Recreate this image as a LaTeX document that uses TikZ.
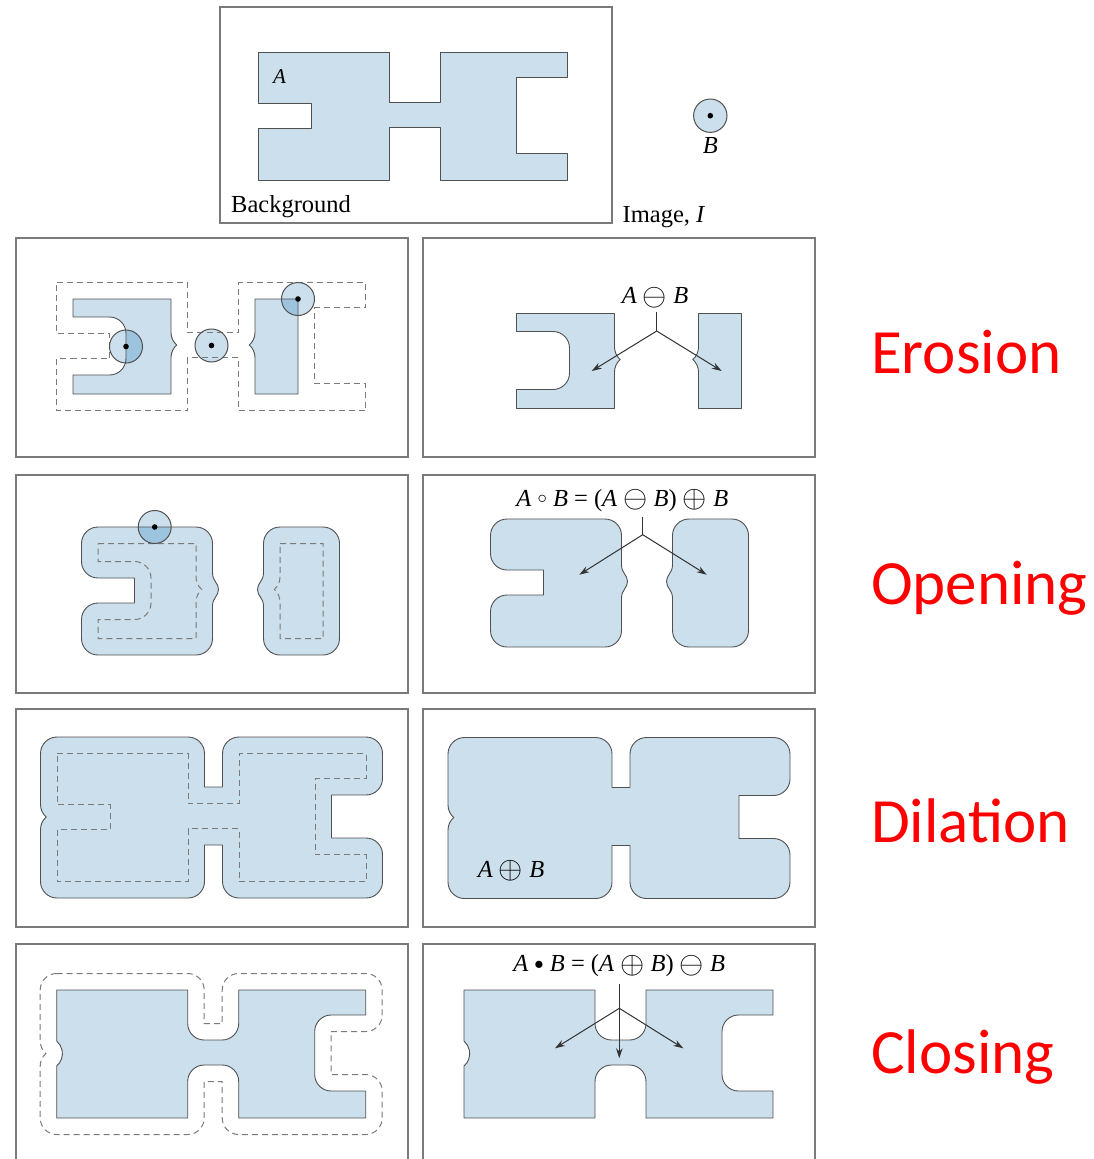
\documentclass[tikz,border=0pt]{standalone}
\usepackage{fontspec}
\setmainfont{Liberation Serif}
\newfontfamily\calib{Carlito}
\usetikzlibrary{arrows.meta}
\definecolor{blu}{HTML}{CCDFEC}
\definecolor{dblu}{HTML}{9DC4DF}
\definecolor{edgec}{HTML}{505050}
\definecolor{frm}{HTML}{7A7A7A}
\definecolor{dshc}{HTML}{7A7A7A}
\definecolor{redc}{HTML}{FF0000}
\newcommand{\bop}[1]{\raisebox{-0.07em}{\scalebox{1.25}{$#1$}}}
\newcommand{\sop}[1]{\raisebox{0.09em}{\scalebox{0.75}{$#1$}}}
% shape A (local coordinates, y down)
\newcommand{\Apath}{(0,0) -- (131,0) -- (131,50) -- (182,50) -- (182,0) -- (309,0) -- (309,25) -- (258,25) -- (258,101) -- (309,101) -- (309,128) -- (182,128) -- (182,75) -- (131,75) -- (131,128) -- (0,128) -- (0,76) -- (53,76) -- (53,51) -- (0,51) -- cycle}
% erosion of A by B
\newcommand{\Epath}{(16.5,16.5) -- (114.5,16.5) -- (114.5,50) arc[start angle=180,end angle=130.8,radius=16.5] arc[start angle=229.2,end angle=180,radius=16.5] -- (114.5,111.5) -- (16.5,111.5) -- (16.5,92.5) -- (53,92.5) arc[start angle=90,end angle=0,radius=16.5] -- (69.5,51) arc[start angle=0,end angle=-90,radius=16.5] -- (16.5,34.5) -- cycle
 (198.5,16.5) -- (241.5,16.5) -- (241.5,111.5) -- (198.5,111.5) -- (198.5,75) arc[start angle=0,end angle=-49.2,radius=16.5] arc[start angle=49.2,end angle=0,radius=16.5] -- cycle}
% opening
\newcommand{\Opath}{(16.5,0) -- (114.5,0) arc[start angle=-90,end angle=0,radius=16.5] -- (131,46) .. controls (131,54) and (137,56) .. (137,62.5) .. controls (137,69) and (131,71) .. (131,79) -- (131,111.5) arc[start angle=0,end angle=90,radius=16.5] -- (16.5,128) arc[start angle=90,end angle=180,radius=16.5] -- (0,92.5) arc[start angle=180,end angle=270,radius=16.5] -- (53,76) -- (53,51) -- (16.5,51) arc[start angle=90,end angle=180,radius=16.5] -- (0,16.5) arc[start angle=180,end angle=270,radius=16.5] -- cycle
 (198.5,0) -- (241.5,0) arc[start angle=-90,end angle=0,radius=16.5] -- (258,111.5) arc[start angle=0,end angle=90,radius=16.5] -- (198.5,128) arc[start angle=90,end angle=180,radius=16.5] -- (182,79) .. controls (182,71) and (176,69) .. (176,62.5) .. controls (176,56) and (182,54) .. (182,46) -- (182,16.5) arc[start angle=180,end angle=270,radius=16.5] -- cycle}
% dilation
\newcommand{\Dpath}{(0,-16.5) -- (131,-16.5) arc[start angle=-90,end angle=0,radius=16.5] -- (147.5,33.5) -- (165.5,33.5) -- (165.5,0) arc[start angle=180,end angle=270,radius=16.5] -- (309,-16.5) arc[start angle=-90,end angle=0,radius=16.5] -- (325.5,25) arc[start angle=0,end angle=90,radius=16.5] -- (274.5,41.5) -- (274.5,84.5) -- (309,84.5) arc[start angle=-90,end angle=0,radius=16.5] -- (325.5,128) arc[start angle=0,end angle=90,radius=16.5] -- (182,144.5) arc[start angle=90,end angle=180,radius=16.5] -- (165.5,91.5) -- (147.5,91.5) -- (147.5,128) arc[start angle=0,end angle=90,radius=16.5] -- (0,144.5) arc[start angle=90,end angle=180,radius=16.5] -- (-16.5,76) arc[start angle=180,end angle=229.2,radius=16.5] arc[start angle=130.8,end angle=180,radius=16.5] -- (-16.5,0) arc[start angle=180,end angle=270,radius=16.5] -- cycle}
% closing
\newcommand{\Cpath}{(0,0) -- (131,0) -- (131,33.5) arc[start angle=180,end angle=90,radius=16.5] -- (165.5,50) arc[start angle=90,end angle=0,radius=16.5] -- (182,0) -- (309,0) -- (309,25) -- (274.5,25) arc[start angle=270,end angle=180,radius=16.5] -- (258,84.5) arc[start angle=180,end angle=90,radius=16.5] -- (309,101) -- (309,128) -- (182,128) -- (182,91.5) arc[start angle=0,end angle=-90,radius=16.5] -- (147.5,75) arc[start angle=270,end angle=180,radius=16.5] -- (131,128) -- (0,128) -- (0,76) arc[start angle=49.2,end angle=-49.2,radius=16.5] -- cycle}
\tikzset{
 region/.style={fill=blu},
 outline/.style={draw=edgec,line width=0.9pt,line join=round},
 dashline/.style={draw=dshc,line width=1pt,dash pattern=on 6pt off 4pt},
 panel/.style={draw=frm,line width=1.4pt},
 lbl/.style={font=\fontsize{24.5}{28}\selectfont,inner sep=0pt},
 redlbl/.style={font=\calib\fontsize{63}{70}\selectfont,text=redc,inner sep=0pt,anchor=base west},
 ptr/.style={draw=black!80,line width=1pt,-{Stealth[length=10pt,width=6.5pt]}},
 stemline/.style={draw=black!80,line width=1pt},
 probe/.style={draw=edgec,line width=1pt},
}
\begin{document}
\begin{tikzpicture}[x=1pt,y=-1pt]
\useasboundingbox (0,0) rectangle (1093,1159);
%% top panel
\draw[panel] (220,7) rectangle (612,223);
\begin{scope}[shift={(258,52)}]
 \fill[region] \Apath; \draw[outline] \Apath;
\end{scope}
\node[lbl,anchor=base west,font=\fontsize{21}{24}\selectfont] (labA) at (273,83.3) {\textit{A}};
\node[lbl,anchor=base west] (bg) at (231,212.5) {Background};
\node[lbl,anchor=base west] (img) at (622.5,222.5) {Image, \textit{I}};
\fill[region] (710.3,115.7) circle[radius=16.7];
\draw[probe] (710.3,115.7) circle[radius=16.7];
\fill (710.3,115.7) circle[radius=2.8];
\node[lbl,anchor=base] (labB) at (710.3,153.3) {\textit{B}};
%% row 1 left: erosion illustration
\draw[panel] (16,238) rectangle (408,457);
\begin{scope}[shift={(56.5,282.5)}]
 \fill[region] \Epath;
 \foreach \p in {(69.5,64),(155,63),(241.5,16.5)} \fill[region] \p circle[radius=16.5];
 \begin{scope}
  \clip \Epath;
  \fill[dblu] (69.5,64) circle[radius=16.5];
  \fill[dblu] (241.5,16.5) circle[radius=16.5];
 \end{scope}
 \draw[dashline] \Apath;
 \draw[outline] \Epath;
 \foreach \p in {(69.5,64),(155,63),(241.5,16.5)} {
  \draw[probe] \p circle[radius=16.5];
  \fill \p circle[radius=2.8];
 }
\end{scope}
%% row 1 right: erosion result
\draw[panel] (423,238) rectangle (815,457);
\begin{scope}[shift={(500,297)}]
 \fill[region] \Epath; \draw[outline] \Epath;
\end{scope}
\node[lbl] (eroLbl) at (655,297.5) {\textit{A} \bop{\ominus} \textit{B}};
\coordinate (eroTop) at (656.7,312);
\coordinate (eroJ) at (656.7,331);
\coordinate (eroL) at (591.7,371);
\coordinate (eroR) at (721.7,371);
\draw[stemline] (eroTop) -- (eroJ);
\draw[ptr] (eroJ) -- (eroL);
\draw[ptr] (eroJ) -- (eroR);
%% row 2 left: opening illustration
\draw[panel] (16,475) rectangle (408,693);
\begin{scope}[shift={(81.5,527)}]
 \fill[region] \Opath;
 \fill[region] (73.2,0) circle[radius=16.5];
 \begin{scope}
  \clip \Opath;
  \fill[dblu] (73.2,0) circle[radius=16.5];
 \end{scope}
 \draw[outline] \Opath;
 \draw[dashline] \Epath;
 \draw[probe] (73.2,0) circle[radius=16.5];
 \fill (73.2,0) circle[radius=2.8];
\end{scope}
%% row 2 right: opening result
\draw[panel] (423,475) rectangle (815,693);
\begin{scope}[shift={(490.5,519)}]
 \fill[region] \Opath; \draw[outline] \Opath;
\end{scope}
\node[lbl] (opLbl) at (622.3,500.3) {\textit{A} \sop{\circ} \textit{B} = (\textit{A} \bop{\ominus} \textit{B}) \bop{\oplus} \textit{B}};
\coordinate (opTop) at (642.7,517);
\coordinate (opJ) at (642.7,534.7);
\coordinate (opL) at (579.3,574.7);
\coordinate (opR) at (706.7,574.7);
\draw[stemline] (opTop) -- (opJ);
\draw[ptr] (opJ) -- (opL);
\draw[ptr] (opJ) -- (opR);
%% row 3 left: dilation illustration
\draw[panel] (16,709) rectangle (408,927);
\begin{scope}[shift={(57,753.5)}]
 \fill[region] \Dpath; \draw[outline] \Dpath;
 \draw[dashline] \Apath;
\end{scope}
%% row 3 right: dilation result
\draw[panel] (423,709) rectangle (815,927);
\begin{scope}[shift={(464.5,754)}]
 \fill[region] \Dpath; \draw[outline] \Dpath;
\end{scope}
\node[lbl] (dilLbl) at (511,871) {\textit{A} \bop{\oplus} \textit{B}};
%% row 4 left: closing illustration
\draw[panel] (16,1162) -- (16,944) -- (408,944) -- (408,1162);
\begin{scope}[shift={(56.7,990)}]
 \fill[region] \Cpath; \draw[outline] \Cpath;
 \draw[dashline] \Dpath;
\end{scope}
%% row 4 right: closing result
\draw[panel] (423,1162) -- (423,944) -- (815,944) -- (815,1162);
\begin{scope}[shift={(464,990)}]
 \fill[region] \Cpath; \draw[outline] \Cpath;
\end{scope}
\node[lbl] (clLbl) at (619.2,966) {\textit{A} \sop{\bullet} \textit{B} = (\textit{A} \bop{\oplus} \textit{B}) \bop{\ominus} \textit{B}};
\coordinate (clTop) at (619.3,984);
\coordinate (clJ) at (619.3,1008.3);
\coordinate (clL) at (555,1048.3);
\coordinate (clM) at (619.3,1058.3);
\coordinate (clR) at (683.3,1048.3);
\draw[ptr] (clTop) -- (clM);
\draw[ptr] (clJ) -- (clL);
\draw[ptr] (clJ) -- (clR);
%% red titles
\node[redlbl] (tEro) at (871,373.3) {Erosion};
\node[redlbl] (tOpe) at (871,604) {Opening};
\node[redlbl] (tDil) at (871,842) {Dilation};
\node[redlbl] (tClo) at (871,1073.3) {Closing};
\end{tikzpicture}
\end{document}
